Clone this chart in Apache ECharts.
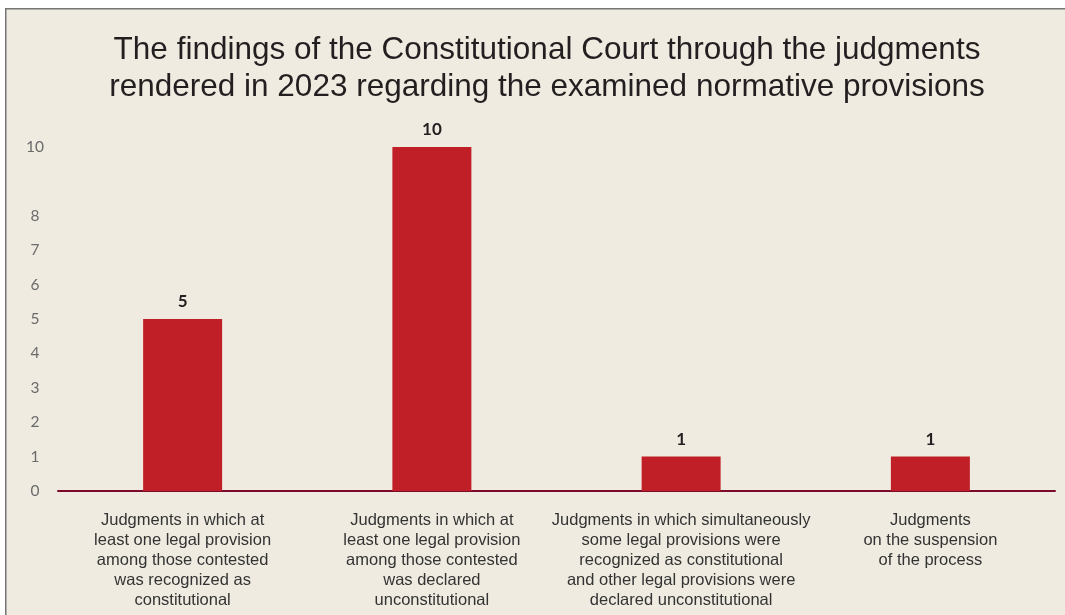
<!DOCTYPE html>
<html>
<head>
<meta charset="utf-8">
<script src="https://cdn.jsdelivr.net/npm/echarts@6/dist/echarts.min.js"></script>
<style>
  html, body { margin: 0; padding: 0; background: #ffffff; }
  #chart { width: 1065px; height: 615px; }
</style>
</head>
<body>
<div id="chart"></div>
<script>
// Chart title (two lines)
const titleLines = [
  'The findings of the Constitutional Court through the judgments',
  'rendered in 2023 regarding the examined normative provisions'
];

// Categories, each with its own line breaks
const categories = [
  'Judgments in which at\nleast one legal provision\namong those contested\nwas recognized as\nconstitutional',
  'Judgments in which at\nleast one legal provision\namong those contested\nwas declared\nunconstitutional',
  'Judgments in which simultaneously\nsome legal provisions were\nrecognized as constitutional\nand other legal provisions were\ndeclared unconstitutional',
  'Judgments\non the suspension\nof the process'
];

// Number of judgments per category
const judgmentCounts = [5, 10, 1, 1];

// Value-axis tick labels that are printed
const yTickLabels = ['0', '1', '2', '3', '4', '5', '6', '7', '8', '10'];

const chart = echarts.init(document.getElementById('chart'), null, { renderer: 'canvas' });

chart.setOption({
  backgroundColor: '#ffffff',
  animation: false,
  graphic: [
    {
      type: 'rect',
      z: -10,
      silent: true,
      shape: { x: 5.75, y: 8.75, width: 1100, height: 700 },
      style: { fill: '#efebe1', stroke: '#767676', lineWidth: 1.5 }
    }
  ],
  title: {
    text: titleLines.join('\n'),
    left: 547,
    textAlign: 'center',
    top: 32,
    padding: 0,
    textStyle: {
      fontFamily: '"Liberation Sans", Arial, sans-serif',
      fontSize: 31.5,
      fontWeight: 'normal',
      color: '#231f20',
      lineHeight: 37
    }
  },
  grid: { left: 58, right: 10, top: 147, bottom: 124, containLabel: false },
  xAxis: {
    type: 'category',
    data: categories,
    axisLine: { show: true, lineStyle: { color: '#7a0b2b', width: 2 } },
    axisTick: { show: false },
    axisLabel: {
      interval: 0,
      margin: 19,
      fontFamily: '"Liberation Sans", Arial, sans-serif',
      fontSize: 16.5,
      lineHeight: 20,
      color: '#333333',
      align: 'center'
    }
  },
  yAxis: {
    type: 'value',
    min: 0,
    max: 10,
    interval: 1,
    axisLine: { show: false },
    axisTick: { show: false },
    splitLine: { show: false },
    axisLabel: {
      margin: 23,
      align: 'center',
      fontFamily: 'Lato, "Open Sans", sans-serif',
      fontSize: 15.5,
      color: '#6b6b6b',
      formatter: function (v) {
        const s = String(v);
        return yTickLabels.indexOf(s) >= 0 ? s : '';
      }
    }
  },
  series: [
    {
      type: 'bar',
      data: judgmentCounts,
      barWidth: 79,
      itemStyle: { color: '#c01f27' },
      label: {
        show: true,
        position: 'top',
        distance: 9,
        fontFamily: 'Lato, "Open Sans", sans-serif',
        fontWeight: 'bold',
        fontSize: 17,
        color: '#231f20'
      }
    }
  ]
});
</script>
</body>
</html>
